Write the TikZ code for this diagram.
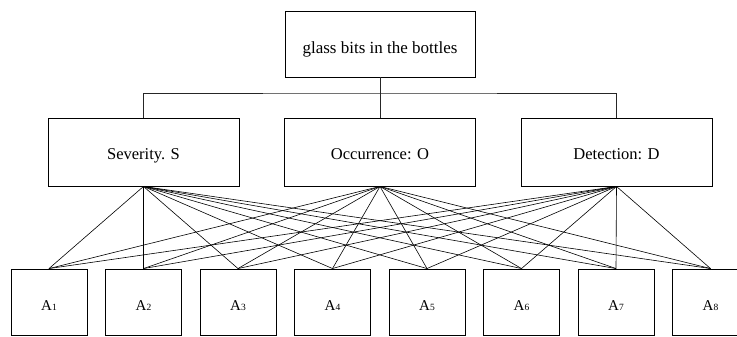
\documentclass[tikz,border=0pt]{standalone}
\usepackage{fontspec}
\setmainfont{Liberation Serif}
\usetikzlibrary{positioning,calc}
\newcommand{\altidx}[1]{A{\fontsize{9.5}{9.5}\selectfont #1}}
\newcommand{\dropto}[2]{\raisebox{-#1}[0pt][0pt]{#2}}

\begin{document}
\begin{tikzpicture}[
    x=1pt, y=-1pt,
    goal/.style={
      draw=black,
      line width=0.9pt,
      minimum width=190pt,
      minimum height=66pt,
      inner sep=0pt,
      font=\fontsize{17}{19}\selectfont
    },
    criterion/.style={
      draw=black,
      line width=0.9pt,
      minimum width=191pt,
      minimum height=68pt,
      inner sep=0pt,
      font=\fontsize{16.5}{18}\selectfont
    },
    option/.style={
      draw=black,
      line width=0.9pt,
      minimum width=76pt,
      minimum height=66pt,
      inner sep=0pt,
      font=\fontsize{15}{17}\selectfont
    },
    link/.style={
      draw=black,
      line width=0.6pt
    },
    tree/.style={
      draw=black!85,
      line width=0.7pt
    }
  ]
    \useasboundingbox (0,0) rectangle (737,337);

    \node[goal] (goal) at (380,44) {\dropto{10pt}{glass bits in the bottles}};

    \node[criterion] (sev) at (143.5,152) {\dropto{7pt}{Severity. S}};
    \node[criterion] (occ) at (380,152) {\dropto{7pt}{Occurrence: O}};
    \node[criterion] (det) at (616.5,152) {\dropto{7pt}{Detection: D}};

    \node[option] (a1) at (49,302) {\dropto{8pt}{\altidx{1}}};
    \node[option] (a2) at (143.5,302) {\dropto{8pt}{\altidx{2}}};
    \node[option] (a3) at (238,302) {\dropto{8pt}{\altidx{3}}};
    \node[option] (a4) at (332.5,302) {\dropto{8pt}{\altidx{4}}};
    \node[option] (a5) at (427,302) {\dropto{8pt}{\altidx{5}}};
    \node[option] (a6) at (521.5,302) {\dropto{8pt}{\altidx{6}}};
    \node[option] (a7) at (616,302) {\dropto{8pt}{\altidx{7}}};
    \node[option] (a8) at (710.5,302) {\dropto{8pt}{\altidx{8}}};

    % goal to criteria
    \coordinate (bus) at (380,93);
    \draw[tree] (goal.south) -- (bus);
    \draw[tree] (sev.north) |- (bus) -| (det.north);
    \draw[tree] (bus) -- (occ.north);

    % every criterion to every alternative
    \foreach \c in {sev,occ,det}
      \foreach \a in {a1,a2,a3,a4,a5,a6,a7,a8}
        \draw[link] (\c.south) -- (\a.north);
  \end{tikzpicture}
\end{document}
